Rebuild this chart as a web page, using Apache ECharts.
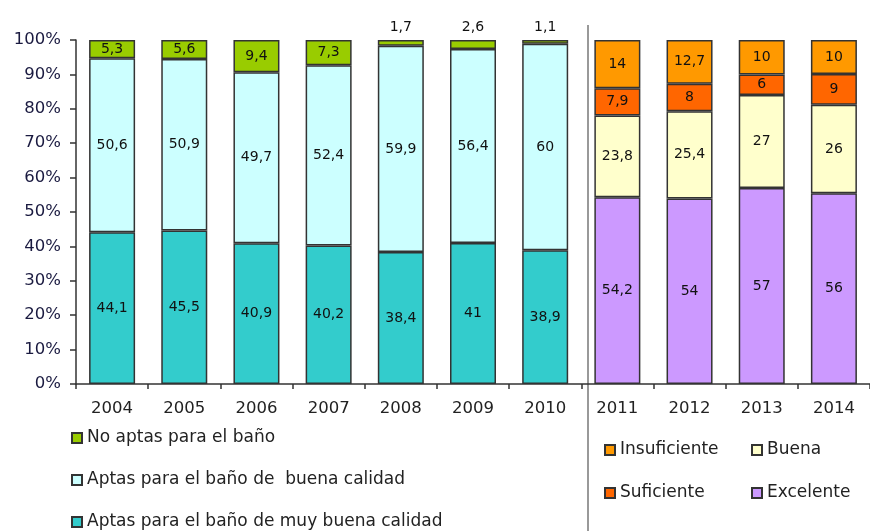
<!DOCTYPE html>
<html>
<head>
<meta charset="utf-8">
<script src="https://cdn.jsdelivr.net/npm/echarts@6/dist/echarts.min.js"></script>
<style>
  html, body { margin: 0; padding: 0; background: #fff; }
  #main { width: 870px; height: 531px; }
</style>
</head>
<body>
<div id="main"></div>
<script>
// años de cada bloque
var yearsA = ['2004', '2005', '2006', '2007', '2008', '2009', '2010'];
var yearsB = ['2011', '2012', '2013', '2014'];

// 2004-2010
var noAptas = [5.3, 5.6, 9.4, 7.3, 1.7, 2.6, 1.1];
var buenaCalidad = [50.6, 50.9, 49.7, 52.4, 59.9, 56.4, 60];
var muyBuenaCalidad = [44.1, 45.5, 40.9, 40.2, 38.4, 41, 38.9];

// 2011-2014
var insuficiente = [14, 12.7, 10, 10];
var suficiente = [7.9, 8, 6, 9];
var buena = [23.8, 25.4, 27, 26];
var excelente = [54.2, 54, 57, 56];

var yTicks = [0, 10, 20, 30, 40, 50, 60, 70, 80, 90, 100];

var years = yearsA.concat(yearsB);
var FONT = 'DejaVu Sans';

var totalsA = yearsA.map(function (y, i) {
  return noAptas[i] + buenaCalidad[i] + muyBuenaCalidad[i];
});
var totalsB = yearsB.map(function (y, i) {
  return insuficiente[i] + suficiente[i] + buena[i] + excelente[i];
});

// 100% apilado: se normaliza cada año, la etiqueta muestra el valor original
function makeData(values, totals, block) {
  var out = values.map(function (v, i) {
    var item = { value: v / totals[i] * 100, raw: v };
    if (v < 4) {
      item.label = { position: 'top', distance: 6 };
    }
    return item;
  });
  var pad = [];
  var n = block == 'A' ? yearsB.length : yearsA.length;
  for (var k = 0; k < n; k++) pad.push('-');
  return block == 'A' ? out.concat(pad) : pad.concat(out);
}

function makeSeries(name, values, block, color) {
  return {
    name: name,
    type: 'bar',
    stack: 'total',
    barWidth: 46,
    data: makeData(values, block == 'A' ? totalsA : totalsB, block),
    itemStyle: { color: color, borderColor: '#333', borderWidth: 1.5 },
    label: {
      show: true,
      position: 'inside',
      color: '#111',
      fontFamily: FONT,
      fontSize: 14,
      formatter: function (p) {
        return String(p.data.raw).replace('.', ',');
      }
    },
    emphasis: { disabled: true }
  };
}

var legendText = { color: '#222', fontFamily: FONT, fontSize: 17, lineHeight: 18 };

var myChart = echarts.init(document.getElementById('main'));

var option = {
  animation: false,
  grid: { left: 76, top: 40, width: 806, height: 344 },
  xAxis: {
    type: 'category',
    data: years,
    axisLine: { lineStyle: { color: '#333', width: 1.5 } },
    axisTick: { show: true, length: 5, lineStyle: { color: '#333', width: 1.5 } },
    axisLabel: { color: '#222', fontFamily: FONT, fontSize: 16.5, margin: 16 }
  },
  yAxis: {
    type: 'value',
    min: yTicks[0],
    max: yTicks[yTicks.length - 1],
    interval: 10,
    splitLine: { show: false },
    axisLine: { show: true, lineStyle: { color: '#333', width: 1.5 } },
    axisTick: { show: true, length: 6, lineStyle: { color: '#333', width: 1.5 } },
    axisLabel: { color: '#1a1a40', fontFamily: FONT, fontSize: 16.5, margin: 15, formatter: '{value}%' }
  },
  legend: [
    {
      orient: 'vertical',
      left: 71,
      top: 429,
      padding: 0,
      icon: 'rect',
      itemWidth: 10,
      itemHeight: 10,
      itemGap: 24,
      selectedMode: false,
      textStyle: legendText,
      data: ['No aptas para el baño', 'Aptas para el baño de  buena calidad', 'Aptas para el baño de muy buena calidad']
    },
    {
      orient: 'vertical',
      left: 604,
      top: 441,
      padding: 0,
      icon: 'rect',
      itemWidth: 10,
      itemHeight: 10,
      itemGap: 25,
      selectedMode: false,
      textStyle: legendText,
      data: ['Insuficiente', 'Suficiente']
    },
    {
      orient: 'vertical',
      left: 751,
      top: 441,
      padding: 0,
      icon: 'rect',
      itemWidth: 10,
      itemHeight: 10,
      itemGap: 25,
      selectedMode: false,
      textStyle: legendText,
      data: ['Buena', 'Excelente']
    }
  ],
  // línea que separa los dos periodos
  graphic: [{
    type: 'line',
    shape: { x1: 588, y1: 25, x2: 588, y2: 531 },
    style: { stroke: '#999', lineWidth: 2 }
  }],
  series: [
    makeSeries('Aptas para el baño de muy buena calidad', muyBuenaCalidad, 'A', '#33cccc'),
    makeSeries('Aptas para el baño de  buena calidad', buenaCalidad, 'A', '#ccffff'),
    makeSeries('No aptas para el baño', noAptas, 'A', '#99cc00'),
    makeSeries('Excelente', excelente, 'B', '#cc99ff'),
    makeSeries('Buena', buena, 'B', '#ffffcc'),
    makeSeries('Suficiente', suficiente, 'B', '#ff6600'),
    makeSeries('Insuficiente', insuficiente, 'B', '#ff9900')
  ]
};

myChart.setOption(option);
</script>
</body>
</html>
